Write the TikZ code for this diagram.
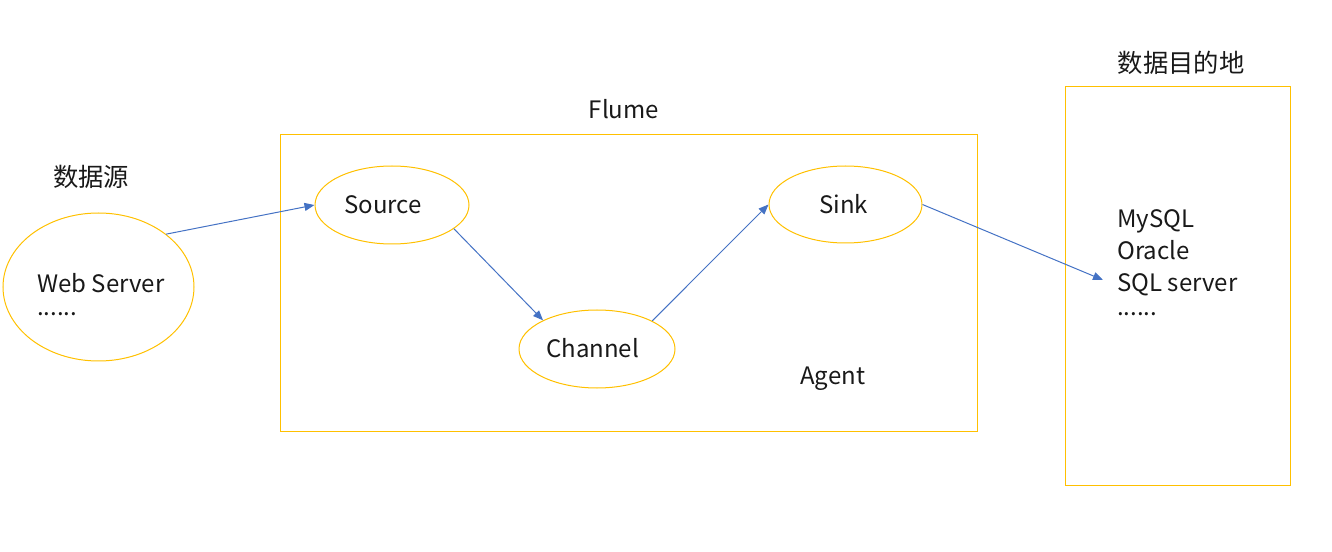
\documentclass[tikz,border=0pt]{standalone}
\usepackage{fontspec}
\setmainfont{Noto Sans CJK SC}
\usetikzlibrary{shapes.geometric,arrows.meta}
\definecolor{ylw}{HTML}{FFC000}
\definecolor{blu}{HTML}{4472C4}
\begin{document}
\begin{tikzpicture}[x=0.75pt,y=-0.75pt,
  ell/.style={ellipse,draw=ylw,line width=0.75pt,inner sep=0pt},
  box/.style={draw=ylw,line width=0.75pt},
  lbl/.style={inner sep=0pt,font=\fontsize{18pt}{24pt}\selectfont,text=black!90},
  cjk/.style={inner sep=0pt,font=\fontsize{19pt}{24pt}\selectfont,text=black!90},
  conn/.style={draw=blu,line width=0.75pt,-{Triangle[length=7.5pt,width=6pt]}}]
\useasboundingbox (0,0) rectangle (1332,552);
% boxes
\draw[box] (280,135) rectangle (977,431);
\draw[box] (1065,87) rectangle (1290,485);
% ellipses
\node[ell,minimum width=143.25pt,minimum height=111pt] (web) at (98.5,287) {};
\node[ell,minimum width=115.5pt,minimum height=58.5pt] (source) at (392,205) {};
\node[ell,minimum width=117pt,minimum height=58.5pt] (channel) at (597,349) {};
\node[ell,minimum width=114.75pt,minimum height=57.75pt] (sink) at (845.5,204.5) {};
% labels
\node[lbl] (flume) at (624,109) {Flume};
\node[cjk] (src) at (91,177) {数据源};
\node[cjk] (dst) at (1181,63) {数据目的地};
\node[lbl,anchor=base west] (agent) at (800,384) {Agent};
\node[lbl,anchor=base west] (webt) at (37,293) {Web Server};
\node[lbl,anchor=base west] (webd) at (37,316) {......};
\node[lbl,anchor=base west] (sourcet) at (344,214) {Source};
\node[lbl,anchor=base west] (channelt) at (546,358) {Channel};
\node[lbl,anchor=base west] (sinkt) at (819,214) {Sink};
\node[lbl,anchor=base west] (db1) at (1117,228) {MySQL};
\node[lbl,anchor=base west] (db2) at (1117,260) {Oracle};
\node[lbl,anchor=base west] (db3) at (1117,292) {SQL server};
\node[lbl,anchor=base west] (db4) at (1117,316) {......};
\coordinate (dstin) at (1103,280);
% connectors
\draw[conn] (web.38) -- (source.west);
\draw[conn] (source.-21) -- (channel.152);
\draw[conn] (channel.27) -- (sink.west);
\draw[conn] (sink.east) -- (dstin);
\end{tikzpicture}
\end{document}
